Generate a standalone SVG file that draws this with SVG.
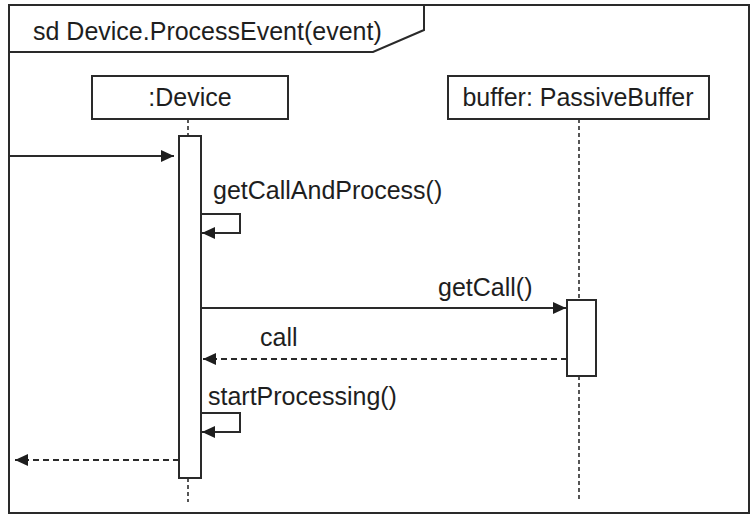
<svg xmlns="http://www.w3.org/2000/svg" width="752" height="516" viewBox="0 0 752 516">
<defs>
<style>
.ln{stroke:#2a2a2a;stroke-width:2;fill:none}
.box{stroke:#2a2a2a;stroke-width:2;fill:#fff}
.dash{stroke:#2a2a2a;stroke-width:2;fill:none;stroke-dasharray:6,4}
.life{stroke:#444;stroke-width:1.8;fill:none;stroke-dasharray:4,3}
text{font-family:"Liberation Sans",Arial,sans-serif;font-size:25px;fill:#1e1e1e}
</style>
<marker id="ah" viewBox="0 0 13 12" refX="13" refY="6" markerWidth="13" markerHeight="12" markerUnits="userSpaceOnUse" orient="auto">
<path d="M0,0 L13,6 L0,12 Z" fill="#1e1e1e"/>
</marker>
</defs>
<rect width="752" height="516" fill="#fff"/>
<g id="frame">
<rect class="ln" x="9" y="5" width="740" height="508"/>
<path class="ln" d="M9,52 L373,52 L424,30 L424,5"/>
<text x="33" y="40">sd Device.ProcessEvent(event)</text>
</g>
<g id="device">
<line class="life" x1="188" y1="119" x2="188" y2="136"/>
<line class="life" x1="188" y1="478" x2="188" y2="502"/>
<rect class="box" x="92" y="76" width="196" height="43"/>
<text x="190" y="106" text-anchor="middle">:Device</text>
<rect class="box" x="179" y="136" width="22" height="342"/>
</g>
<g id="buffer">
<line class="life" x1="579" y1="119" x2="579" y2="300"/>
<line class="life" x1="579" y1="376" x2="579" y2="502"/>
<rect class="box" x="448" y="76" width="261" height="43"/>
<text x="578" y="106" text-anchor="middle">buffer: PassiveBuffer</text>
<rect class="box" x="567" y="300" width="29" height="76"/>
</g>
<g id="connectors">
<line class="ln" x1="9" y1="156" x2="174" y2="156" marker-end="url(#ah)"/>
<path class="ln" d="M201,214 L240,214 L240,233 L202,233" marker-end="url(#ah)"/>
<text x="213" y="199">getCallAndProcess()</text>
<line class="ln" x1="201" y1="308" x2="566" y2="308" marker-end="url(#ah)"/>
<text x="438" y="296">getCall()</text>
<line class="dash" x1="567" y1="359" x2="203" y2="359" marker-end="url(#ah)"/>
<text x="260" y="346">call</text>
<path class="ln" d="M201,413 L240,413 L240,432 L202,432" marker-end="url(#ah)"/>
<text x="208" y="405">startProcessing()</text>
<line class="dash" x1="179" y1="460" x2="15" y2="460" marker-end="url(#ah)"/>
</g>
</svg>
